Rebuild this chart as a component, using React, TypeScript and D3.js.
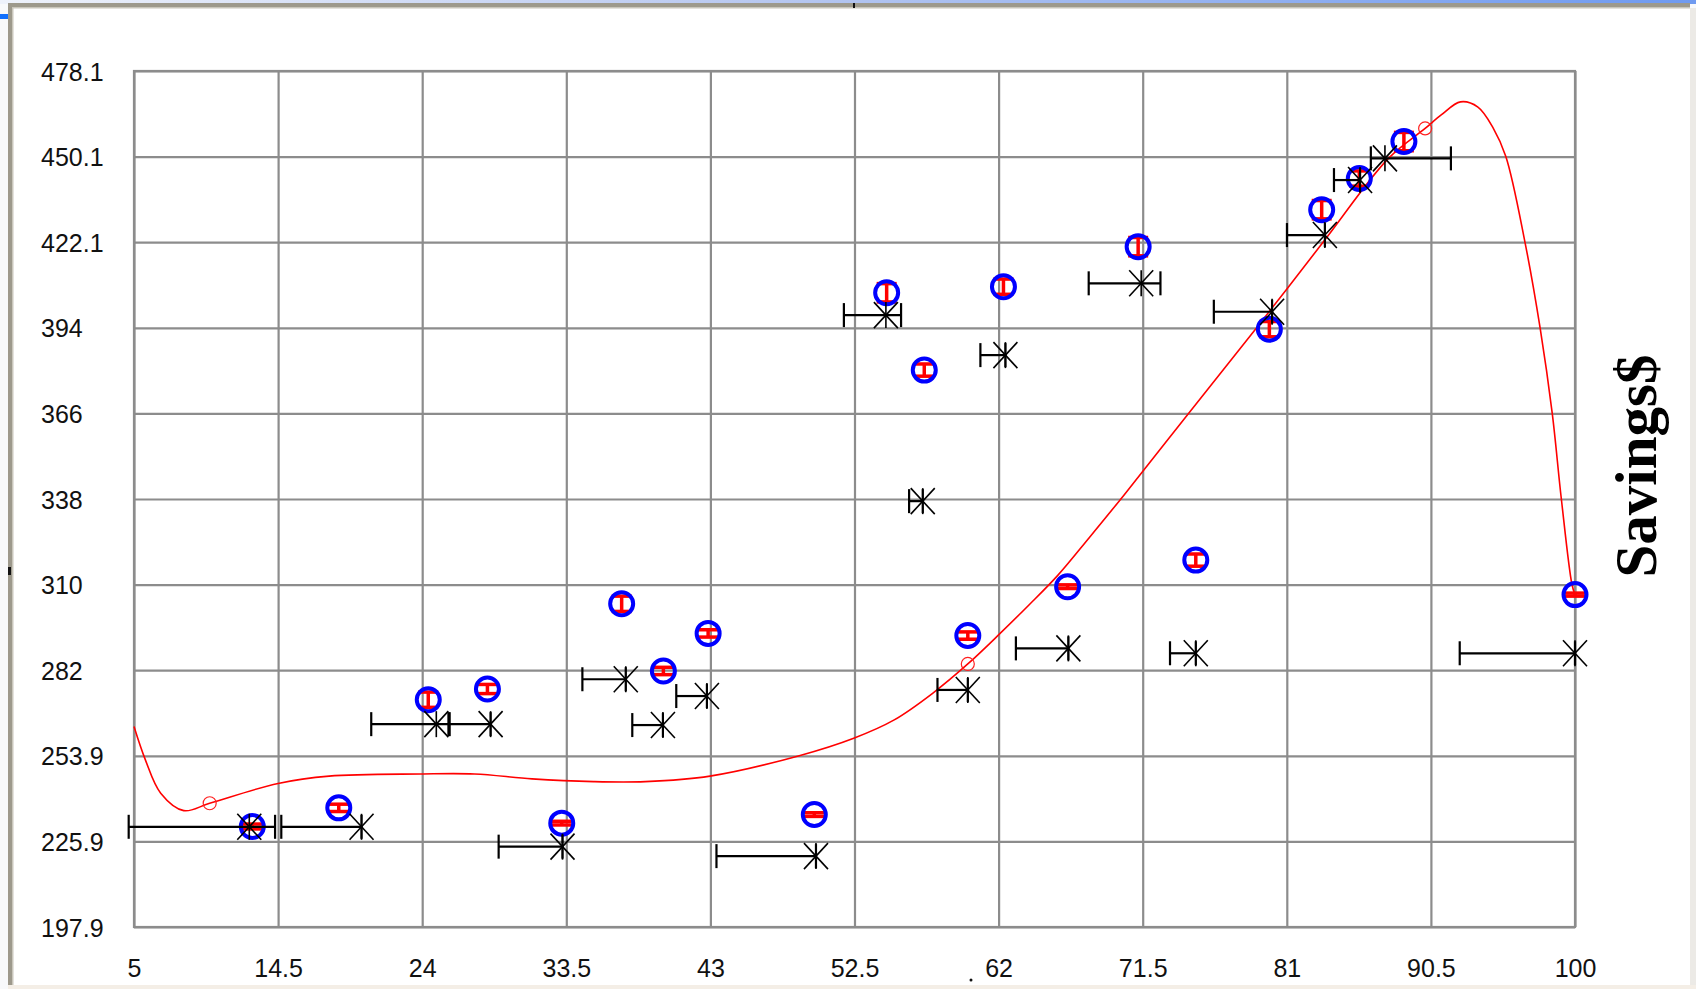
import * as React from 'react';
import * as d3 from 'd3';

// axis ticks
const xTickValues = [5, 14.5, 24, 33.5, 43, 52.5, 62, 71.5, 81, 90.5, 100];
const xTickLabels = ['5', '14.5', '24', '33.5', '43', '52.5', '62', '71.5', '81', '90.5', '100'];
const yTickValues = [197.9, 225.9, 253.9, 282, 310, 338, 366, 394, 422.1, 450.1, 478.1];
const yTickLabels = ['197.9', '225.9', '253.9', '282', '310', '338', '366', '394', '422.1', '450.1', '478.1'];

// blue circles with small red vertical error bars
const blueX = [12.8, 18.5, 24.4, 28.3, 33.2, 37.15, 39.9, 42.85, 49.85, 54.62, 57.1, 59.97, 62.32, 66.55, 71.2, 75.0, 79.85, 83.3, 85.78, 88.72, 100];
const blueY = [230.8, 236.9, 272.3, 275.8, 231.9, 303.7, 281.7, 294.0, 234.7, 405.5, 380.2, 293.3, 407.5, 309.3, 420.6, 318.0, 393.6, 432.7, 442.9, 455.0, 306.7];
const blueErr = [0.8, 1.2, 2.5, 1.5, 0.6, 2.5, 1.2, 1.2, 0.6, 3, 2, 1.2, 2.5, 0.6, 3, 2, 2.5, 3, 2.5, 3, 0.5];

// asterisks with horizontal error bars
const starX = [12.6, 20.0, 24.93, 28.51, 33.25, 37.42, 39.87, 42.77, 49.96, 54.57, 57.0, 59.97, 62.45, 66.6, 71.4, 75.0, 80.03, 83.51, 85.83, 87.47, 100];
const starY = [230.7, 230.7, 264.3, 264.3, 224.2, 279.0, 264.0, 273.5, 221.1, 398.2, 337.3, 275.5, 385.1, 289.1, 408.6, 287.5, 399.3, 424.4, 442.4, 449.5, 287.5];
const starErrMinus = [7.95, 5.29, 4.29, 2.7, 4.21, 2.86, 2.02, 2.02, 6.56, 2.77, 0.9, 2.0, 1.65, 3.46, 3.46, 1.7, 3.84, 2.5, 1.72, 0.93, 7.6];
const starErrPlus = [1.7, 0, 0.8, 0, 0, 0, 0, 0, 0, 1.0, 0, 0, 0, 0, 1.27, 0, 0, 0, 0, 4.35, 0];

// red fitted curve
const fitX = [5, 5.75, 6.76, 8.28, 9.99, 14.5, 17.86, 23.9, 27.45, 31.24, 35.3, 38.7, 42.97, 48.8, 52.45, 55.12, 57.65, 59.97, 62.1, 64.0, 65.9, 68.0, 70.3, 74.6, 79.0, 83.4, 87.7, 90.12, 91.2, 92.45, 93.6, 94.6, 95.44, 96.7, 97.7, 98.5, 99.1, 99.8, 100];
const fitY = [263.5, 252.6, 241.7, 236.0, 238.4, 244.9, 247.3, 248.0, 248.0, 246.4, 245.5, 245.5, 247.3, 253.9, 259.7, 265.7, 274.4, 284.0, 294.0, 303.3, 313.0, 325.5, 339.5, 366.5, 394.0, 422.1, 449.5, 459.3, 463.8, 468.0, 466.3, 459.5, 450.1, 422.1, 394.0, 366.0, 338.0, 310.0, 306.7];
const fitMarkX = [9.99, 59.97, 90.12];
const fitMarkY = [238.4, 284.0, 459.3];

const W = 1696;
const H = 989;
const plot = { left: 134, right: 1575, top: 71, bottom: 927 };

const x = d3.scaleLinear().domain([5, 100]).range([plot.left, plot.right]);
const y = d3.scaleLinear().domain([197.9, 478.1]).range([plot.bottom, plot.top]);

const GRID = '#8c8c8c';
const FONT = '"Liberation Sans", Arial, sans-serif';

export default function App() {
  const xAxisRef = React.useRef<SVGGElement | null>(null);
  const yAxisRef = React.useRef<SVGGElement | null>(null);

  React.useEffect(() => {
    if (xAxisRef.current) {
      const g = d3.select(xAxisRef.current);
      g.selectAll('*').remove();
      g.call(
        d3
          .axisBottom(x)
          .tickValues(xTickValues)
          .tickSize(-(plot.bottom - plot.top))
          .tickFormat((_d, i) => xTickLabels[i])
      );
      g.select('.domain').remove();
      g.selectAll('.tick line').attr('stroke', GRID).attr('stroke-width', 2.2);
      g.selectAll('.tick text')
        .attr('y', 968 - plot.bottom)
        .attr('dy', '0.36em')
        .attr('fill', '#111')
        .style('font-family', FONT)
        .style('font-size', '25px');
    }
    if (yAxisRef.current) {
      const g = d3.select(yAxisRef.current);
      g.selectAll('*').remove();
      g.call(
        d3
          .axisLeft(y)
          .tickValues(yTickValues)
          .tickSize(-(plot.right - plot.left))
          .tickFormat((_d, i) => yTickLabels[i])
      );
      g.select('.domain').remove();
      g.selectAll('.tick line').attr('stroke', GRID).attr('stroke-width', 2.2);
      g.selectAll('.tick text')
        .attr('x', 41 - plot.left)
        .attr('dy', '0.36em')
        .attr('text-anchor', 'start')
        .attr('fill', '#111')
        .style('font-family', FONT)
        .style('font-size', '25px');
    }
  }, []);

  const line = d3
    .line<number>()
    .x((_d, i) => x(fitX[i]))
    .y((d) => y(d))
    .curve(d3.curveCatmullRom.alpha(0.5));

  return (
    <div>
      <style>{'body{margin:0;background:#fff}'}</style>
      <svg width={W} height={H} style={{ display: 'block' }}>
        <defs>
          <linearGradient id="titlebar" x1="0" x2="1" y1="0" y2="0">
            <stop offset="0" stopColor="#eef2fb" />
            <stop offset="0.45" stopColor="#b8c8f0" />
            <stop offset="1" stopColor="#6f9af0" />
          </linearGradient>
        </defs>
        {/* window frame */}
        <rect x={0} y={0} width={W} height={H} fill="#f8f9fb" />
        <rect x={0} y={0} width={W} height={4} fill="url(#titlebar)" />
        <rect x={8} y={4} width={W - 14} height={H - 8} fill="#ffffff" />
        <rect x={8} y={3} width={W - 14} height={4} fill="#9d998c" />
        <rect x={8} y={7} width={W - 14} height={1.5} fill="#c9c6bb" />
        <rect x={8} y={3} width={4} height={H - 7} fill="#9d998c" />
        <rect x={12} y={7} width={1.5} height={H - 11} fill="#c9c6bb" />
        <rect x={W - 6} y={8} width={6} height={H - 8} fill="#eceae6" />
        <rect x={8} y={H - 4} width={W - 8} height={4} fill="#f4eee6" />
        <rect x={0} y={14} width={8} height={5} fill="#1170ff" />
        <rect x={853} y={3} width={2} height={5} fill="#111" />
        <rect x={8} y={567} width={3} height={8} fill="#111" />

        {/* grid + axes */}
        <g ref={yAxisRef} transform={`translate(${plot.left},0)`} />
        <g ref={xAxisRef} transform={`translate(0,${plot.bottom})`} />
        <rect
          x={plot.left}
          y={plot.top}
          width={plot.right - plot.left}
          height={plot.bottom - plot.top}
          fill="none"
          stroke={GRID}
          strokeWidth={2.2}
        />
        <circle cx={971} cy={980} r={1.5} fill="#111" />

        {/* fitted curve */}
        <path d={line(fitY) || ''} fill="none" stroke="#ff0000" strokeWidth={1.6} />
        {fitMarkX.map((v, i) => (
          <circle key={`fm${i}`} cx={x(v)} cy={y(fitMarkY[i])} r={6.5} fill="none" stroke="#ff2020" strokeWidth={1.2} />
        ))}

        {/* blue circles with red error bars */}
        {blueX.map((v, i) => {
          const cx = x(v);
          const y0 = y(blueY[i] - blueErr[i]);
          const y1 = y(blueY[i] + blueErr[i]);
          return (
            <g key={`b${i}`}>
              <line x1={cx} x2={cx} y1={y0} y2={y1} stroke="#ff0000" strokeWidth={3.5} />
              <line x1={cx - 10} x2={cx + 10} y1={y0} y2={y0} stroke="#ff0000" strokeWidth={3.5} />
              <line x1={cx - 10} x2={cx + 10} y1={y1} y2={y1} stroke="#ff0000" strokeWidth={3.5} />
              <circle cx={cx} cy={y(blueY[i])} r={11.5} fill="none" stroke="#0000ff" strokeWidth={4} />
            </g>
          );
        })}

        {/* asterisks with horizontal error bars */}
        {starX.map((v, i) => {
          const cx = x(v);
          const cy = y(starY[i]);
          const xl = x(v - starErrMinus[i]);
          const xr = x(v + starErrPlus[i]);
          return (
            <g key={`s${i}`} stroke="#000" fill="none">
              <line x1={xl} x2={xr} y1={cy} y2={cy} strokeWidth={2.2} />
              <line x1={xl} x2={xl} y1={cy - 12} y2={cy + 12} strokeWidth={2.2} />
              <line x1={xr} x2={xr} y1={cy - 12} y2={cy + 12} strokeWidth={2.2} />
              <line x1={cx} x2={cx} y1={cy - 13} y2={cy + 13} strokeWidth={1.6} />
              <line x1={cx - 12} x2={cx + 12} y1={cy - 13} y2={cy + 13} strokeWidth={1.6} />
              <line x1={cx - 12} x2={cx + 12} y1={cy + 13} y2={cy - 13} strokeWidth={1.6} />
            </g>
          );
        })}

        {/* right-side axis title */}
        <text
          transform="translate(1656,466) rotate(-90)"
          textAnchor="middle"
          fontFamily='"Liberation Serif", "Times New Roman", serif'
          fontWeight="bold"
          fontSize={59}
          fill="#000"
        >
          Savings$
        </text>
      </svg>
    </div>
  );
}
